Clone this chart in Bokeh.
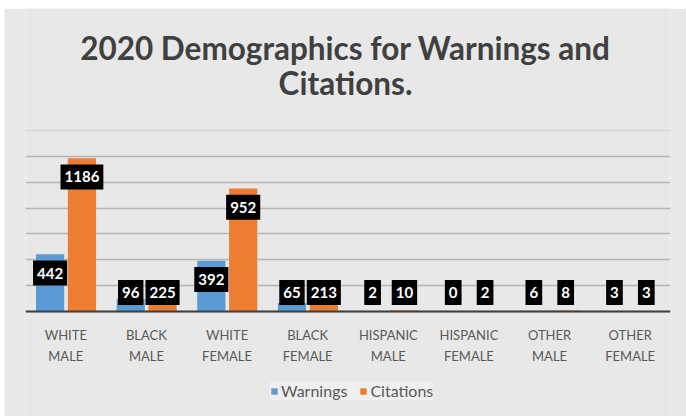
from bokeh.plotting import figure
from bokeh.models import (ColumnDataSource, FactorRange, FixedTicker, Label,
                          Legend, LegendItem, Span)
from bokeh.core.properties import value
from bokeh.transform import dodge
from bokeh.embed import file_html
from bokeh.resources import INLINE

categories = ["WHITE\nMALE", "BLACK\nMALE", "WHITE\nFEMALE", "BLACK\nFEMALE",
              "HISPANIC\nMALE", "HISPANIC\nFEMALE", "OTHER\nMALE", "OTHER\nFEMALE"]
warnings = [442, 96, 392, 65, 2, 0, 6, 3]
citations = [1186, 225, 952, 213, 10, 2, 8, 3]
y_ticks = [0, 200, 400, 600, 800, 1000, 1200]
title_lines = ["2020 Demographics for Warnings and", "Citations."]

# label placement style (inside end, with a floor near the baseline)
LABEL_DROP = 145
LABEL_FLOOR = 147

src = ColumnDataSource(dict(
    cat=categories,
    w=warnings,
    c=citations,
    wt=[str(v) for v in warnings],
    ct=[str(v) for v in citations],
    wy=[max(v - LABEL_DROP, LABEL_FLOOR) for v in warnings],
    cy=[max(v - LABEL_DROP, LABEL_FLOOR) for v in citations],
))

# frame covers the whole figure height; value axis 0..1400 occupies 181 px
PX = 1400 / 181.0
Y0, Y1 = -105 * PX, 1400 + 122 * PX

BG = "#e8e8e8"
p = figure(x_range=FactorRange(factors=categories), y_range=(Y0, Y1),
           width=682, height=408, output_backend="svg", toolbar_location=None,
           title=None,
           min_border_left=21, min_border_right=16, min_border_top=0,
           min_border_bottom=0, margin=(8, 0, 0, 4))
p.background_fill_color = BG
p.border_fill_color = BG
p.outline_line_color = None

for txt, ty in zip(title_lines, [369, 334]):
    p.add_layout(Label(x=320, y=ty, x_units="screen", y_units="screen", text=txt,
                       text_align="center", text_baseline="middle",
                       text_font="Lato", text_font_style="bold",
                       text_font_size="31.5px", text_color="#404040"))

OFF_W, OFF_C, BW = -0.195, 0.2, 0.35
r1 = p.vbar(x=dodge("cat", OFF_W, range=p.x_range), top="w", width=BW, source=src,
            fill_color="#5B9BD5", line_color=None)
r2 = p.vbar(x=dodge("cat", OFF_C, range=p.x_range), top="c", width=BW, source=src,
            fill_color="#ED7D31", line_color=None)

for xo, yf, tf in [(OFF_W, "wy", "wt"), (OFF_C, "cy", "ct")]:
    kw = dict(x=dodge("cat", xo, range=p.x_range), y=yf, text=tf, source=src,
              text_align="center", text_baseline="middle", text_color="white",
              text_font=value("Lato"), text_font_style="bold",
              text_font_size="15px", background_fill_color="black")
    try:
        p.text(padding=dict(left=4, right=4, top=7, bottom=7), **kw)
    except Exception:
        p.text(padding=4, **kw)

p.add_layout(Span(location=1400, dimension="width",
                  line_color="#d6d6d6", line_width=1.5))

p.yaxis.visible = False
p.ygrid.ticker = FixedTicker(ticks=y_ticks)
p.ygrid.grid_line_color = "#b4b4b4"
p.ygrid.grid_line_width = 1.5
p.xgrid.grid_line_color = None

ax = p.xaxis[0]
ax.fixed_location = 0
ax.axis_line_color = "#404040"
ax.axis_line_width = 2
ax.major_tick_line_color = None
ax.minor_tick_line_color = None
ax.major_label_standoff = 9
ax.major_label_text_font = "Lato"
ax.major_label_text_font_size = "13px"
ax.major_label_text_color = "#595959"
ax.major_label_text_line_height = 1.35

legend = Legend(items=[LegendItem(label="Warnings", renderers=[r1]),
                       LegendItem(label="Citations", renderers=[r2])],
                orientation="horizontal", location=(245, 16),
                glyph_width=8, glyph_height=8, label_text_font="Lato",
                label_text_font_size="16px", label_text_color="#595959",
                background_fill_color="#efefef", border_line_color=None,
                spacing=12, padding=10, margin=0, label_standoff=3)
p.add_layout(legend, "center")

open("out.html", "w").write(file_html(p, INLINE))
